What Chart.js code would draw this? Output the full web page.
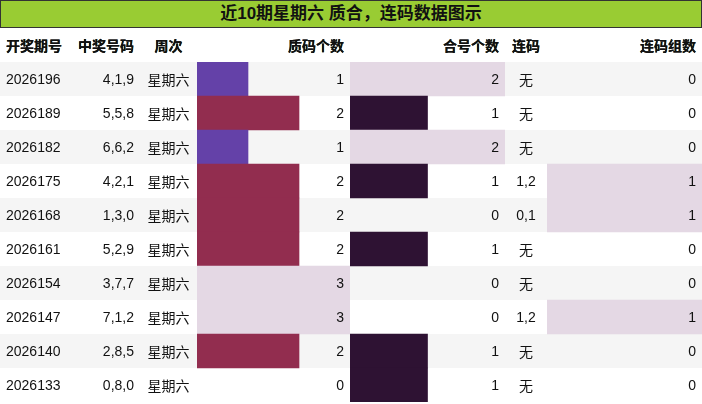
<!DOCTYPE html>
<html>
<head>
<meta charset="utf-8">
<script src="https://cdn.jsdelivr.net/npm/chart.js@4"></script>
<style>
body { margin: 0; width: 702px; height: 404px; overflow: hidden; background: #fff;
  font-family: "Liberation Sans", "Noto Sans CJK SC", sans-serif; font-size: 14px; color: #111; }
#title { position: absolute; left: 0; top: 0; width: 700px; height: 26px; border: 1px solid #333;
  background: #99cc33; font-weight: bold; font-size: 17px; text-align: center; line-height: 26px; }
table { position: absolute; left: 0; top: 28px; border-collapse: collapse; table-layout: fixed; width: 702px; }
td { height: 34px; padding: 0 6px; white-space: nowrap; }
tr.h td { font-weight: bold; }
#bg tr.odd td { background: #f5f5f5; }
#fg { z-index: 2; }
canvas { position: absolute; top: 62px; z-index: 1; }
</style>
</head>
<body>
<div id="title">近10期星期六 质合，连码数据图示</div>
<table id="bg"></table>
<table id="fg"></table>
<canvas id="c1" width="153" height="340" style="left:197px"></canvas>
<canvas id="c2" width="155" height="340" style="left:350px"></canvas>
<canvas id="c3" width="155" height="340" style="left:547px"></canvas>
<script>
var issues = ['2026196', '2026189', '2026182', '2026175', '2026168', '2026161', '2026154', '2026147', '2026140', '2026133'];
var numbers = ['4,1,9', '5,5,8', '6,6,2', '4,2,1', '1,3,0', '5,2,9', '3,7,7', '7,1,2', '2,8,5', '0,8,0'];
var weekday = '星期六';
var primeCount = [1, 2, 1, 2, 2, 2, 3, 3, 2, 0];
var compositeCount = [2, 1, 2, 1, 0, 1, 0, 0, 1, 1];
var consec = ['无', '无', '无', '1,2', '0,1', '无', '无', '1,2', '无', '无'];
var consecGroups = [0, 0, 0, 1, 1, 0, 0, 1, 0, 0];

var headers = ['开奖期号', '中奖号码', '周次', '质码个数', '合号个数', '连码', '连码组数'];
var widths = [70, 70, 57, 153, 155, 42, 155];
var aligns = ['left', 'right', 'center', 'right', 'right', 'center', 'right'];

function buildTable(id) {
    var t = document.getElementById(id);
    var cg = '<colgroup>' + widths.map(function(w) { return '<col style="width:' + w + 'px">'; }).join('') + '</colgroup>';
    var html = cg + '<tr class="h">' + headers.map(function(h, i) {
        return '<td style="text-align:' + aligns[i] + '">' + h + '</td>';
    }).join('') + '</tr>';
    for (var r = 0; r < issues.length; r++) {
        var cells = [issues[r], numbers[r], weekday, primeCount[r], compositeCount[r], consec[r], consecGroups[r]];
        html += '<tr class="' + (r % 2 == 0 ? 'odd' : 'even') + '">' + cells.map(function(c, i) {
            return '<td style="text-align:' + aligns[i] + '">' + (id == 'bg' ? '' : c) + '</td>';
        }).join('') + '</tr>';
    }
    t.innerHTML = html;
}
buildTable('bg');
buildTable('fg');

function barChart(id, values, max, colors) {
    new Chart(document.getElementById(id).getContext('2d'), {
        type: 'bar',
        data: {
            labels: issues,
            datasets: [{
                data: values,
                backgroundColor: values.map(function(v) { return colors[v] || 'rgba(0,0,0,0)'; }),
                barPercentage: 1,
                categoryPercentage: 1
            }]
        },
        options: {
            indexAxis: 'y',
            responsive: false,
            animation: false,
            layout: { padding: 0 },
            plugins: { legend: { display: false }, tooltip: { enabled: false } },
            scales: {
                x: { display: false, min: 0, max: max },
                y: { display: false }
            }
        }
    });
}

barChart('c1', primeCount, 3, { 1: '#6441a8', 2: '#922d4f', 3: '#e4d8e4' });
barChart('c2', compositeCount, 2, { 1: '#2e1233', 2: '#e4d8e4' });
barChart('c3', consecGroups, 1, { 1: '#e4d8e4' });
</script>
</body>
</html>
